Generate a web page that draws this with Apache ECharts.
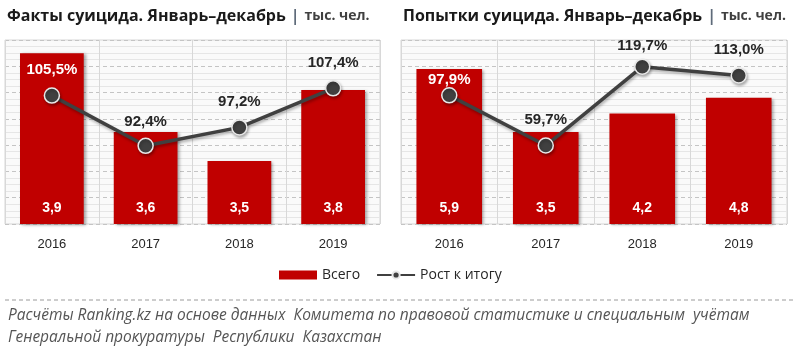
<!DOCTYPE html>
<html>
<head>
<meta charset="utf-8">
<script src="https://cdn.jsdelivr.net/npm/echarts@6/dist/echarts.min.js"></script>
<style>
  html, body { margin: 0; padding: 0; background: #fff; }
  #chart { width: 800px; height: 351px; }
</style>
</head>
<body>
<div id="chart"></div>
<script>
const years = ['2016', '2017', '2018', '2019'];

// факты суицида, тыс. чел. и рост к итогу, %
const factsTotal = [3.9, 3.6, 3.49, 3.76];
const factsGrowth = [105.5, 92.4, 97.2, 107.4];

// попытки суицида
const attemptsTotal = [5.9, 3.5, 4.2, 4.8];
const attemptsGrowth = [97.9, 59.7, 119.7, 113.0];

// labels that sit on top of a red bar are white
const factsWhite = [true, false, false, false];
const attemptsWhite = [true, false, false, false];
const factsGap = [10, 8, 10, 10];
const attemptsGap = [0, 10, 5, 10];

const RED = '#c00000';
const DARK = '#404040';
const FONT = 'Liberation Sans';

const chart = echarts.init(document.getElementById('chart'));

function comma(v, d) {
  return v.toFixed(d).replace('.', ',');
}

function lineData(vals, white, gap) {
  return vals.map((v, i) => ({
    value: v,
    label: { color: white[i] ? '#fff' : '#262626', distance: gap[i] }
  }));
}

function gridAxis(gi) {
  return {
    type: 'value', gridIndex: gi, min: 0, max: 7, interval: 1,
    axisLabel: { show: false }, axisTick: { show: false }, axisLine: { show: false },
    splitLine: { show: true, lineStyle: { color: '#c4c4c4', type: [4, 3] } },
    minorTick: { show: false, splitNumber: 4 },
    minorSplitLine: { show: true, lineStyle: { color: '#e6e6e6' } }
  };
}

function hiddenAxis(gi, min, max) {
  return {
    type: 'value', gridIndex: gi, min: min, max: max, show: false,
    splitLine: { show: false }
  };
}

function xAx(gi) {
  return {
    type: 'category', gridIndex: gi, data: years,
    axisLine: { show: false }, axisTick: { show: false },
    axisLabel: { color: '#262626', fontSize: 13, fontFamily: FONT, margin: 14 },
    splitLine: { show: true, lineStyle: { color: '#d8d8d8' } }
  };
}

function barSeries(xi, yi, vals) {
  return {
    name: 'Всего', type: 'bar', xAxisIndex: xi, yAxisIndex: yi,
    data: vals, barWidth: '68%',
    itemStyle: { color: RED, shadowColor: 'rgba(0,0,0,0.35)', shadowBlur: 3, shadowOffsetX: 2, shadowOffsetY: 1 },
    label: {
      show: true, position: 'insideBottom', distance: 9,
      color: '#fff', fontWeight: 'bold', fontSize: 14, fontFamily: FONT,
      formatter: p => comma(p.value, 1)
    },
    z: 2
  };
}

function lineSeries(xi, yi, vals, white, gap) {
  return {
    name: 'Рост к итогу', type: 'line', xAxisIndex: xi, yAxisIndex: yi,
    data: lineData(vals, white, gap),
    symbol: 'circle', symbolSize: 15,
    lineStyle: { color: DARK, width: 3.5, shadowColor: 'rgba(0,0,0,0.3)', shadowBlur: 3, shadowOffsetX: 1, shadowOffsetY: 2 },
    itemStyle: { color: DARK, borderColor: '#e8e8e8', borderWidth: 1.5, shadowColor: 'rgba(0,0,0,0.3)', shadowBlur: 3, shadowOffsetX: 1, shadowOffsetY: 2 },
    label: {
      show: true, position: 'top',
      fontWeight: 'bold', fontSize: 15, fontFamily: FONT,
      formatter: p => comma(p.value, 1) + '%'
    },
    labelLayout: { hideOverlap: false },
    z: 3
  };
}

function titleRich(main) {
  return {
    text: '{a|' + main + '} {b||} {c|тыс. чел.}',
    textStyle: {
      rich: {
        a: { fontSize: 16, fontWeight: 'bold', color: '#1a1a1a', fontFamily: 'Open Sans' },
        b: { fontSize: 16, fontWeight: 'bold', color: '#5f6b7a', fontFamily: 'Open Sans' },
        c: { fontSize: 14, color: '#404040', fontFamily: 'Open Sans' }
      }
    }
  };
}

const option = {
  animation: false,
  backgroundColor: '#fff',
  title: [
    Object.assign({ left: 2, top: 2 }, titleRich('Факты суицида. Январь–декабрь')),
    Object.assign({ left: 398, top: 2 }, titleRich('Попытки суицида. Январь–декабрь'))
  ],
  legend: {
    top: 263, left: 274, itemGap: 16,
    itemWidth: 38, itemHeight: 9,
    textStyle: { color: '#262626', fontSize: 14, fontFamily: 'Open Sans' },
    data: [
      { name: 'Всего', icon: 'rect', itemStyle: { color: RED } },
      { name: 'Рост к итогу' }
    ]
  },
  grid: [
    { left: 5, right: 420, top: 40, bottom: 127, show: true, borderColor: '#d6d6d6', borderWidth: 1, backgroundColor: '#fafafa' },
    { left: 401, right: 13, top: 40, bottom: 127, show: true, borderColor: '#d6d6d6', borderWidth: 1, backgroundColor: '#fafafa' }
  ],
  xAxis: [xAx(0), xAx(1)],
  yAxis: [
    gridAxis(0),
    hiddenAxis(0, 3.25, 3.95),
    hiddenAxis(0, 72, 120),
    gridAxis(1),
    hiddenAxis(1, 0, 7),
    hiddenAxis(1, 0, 140)
  ],
  series: [
    barSeries(0, 1, factsTotal),
    lineSeries(0, 2, factsGrowth, factsWhite, factsGap),
    barSeries(1, 4, attemptsTotal),
    lineSeries(1, 5, attemptsGrowth, attemptsWhite, attemptsGap)
  ],
  graphic: [
    {
      type: 'line', shape: { x1: 5, y1: 300, x2: 795, y2: 300 },
      style: { stroke: '#9a9a9a', lineWidth: 1, lineDash: [4, 3] }
    },
    {
      type: 'text', left: 8, top: 305,
      style: {
        text: 'Расчёты Ranking.kz на основе данных  Комитета по правовой статистике и специальным  учётам\nГенеральной прокуратуры  Республики  Казахстан',
        fill: '#555', font: 'italic 15.5px "Open Sans"', lineHeight: 22
      }
    }
  ]
};

chart.setOption(option);
</script>
</body>
</html>
